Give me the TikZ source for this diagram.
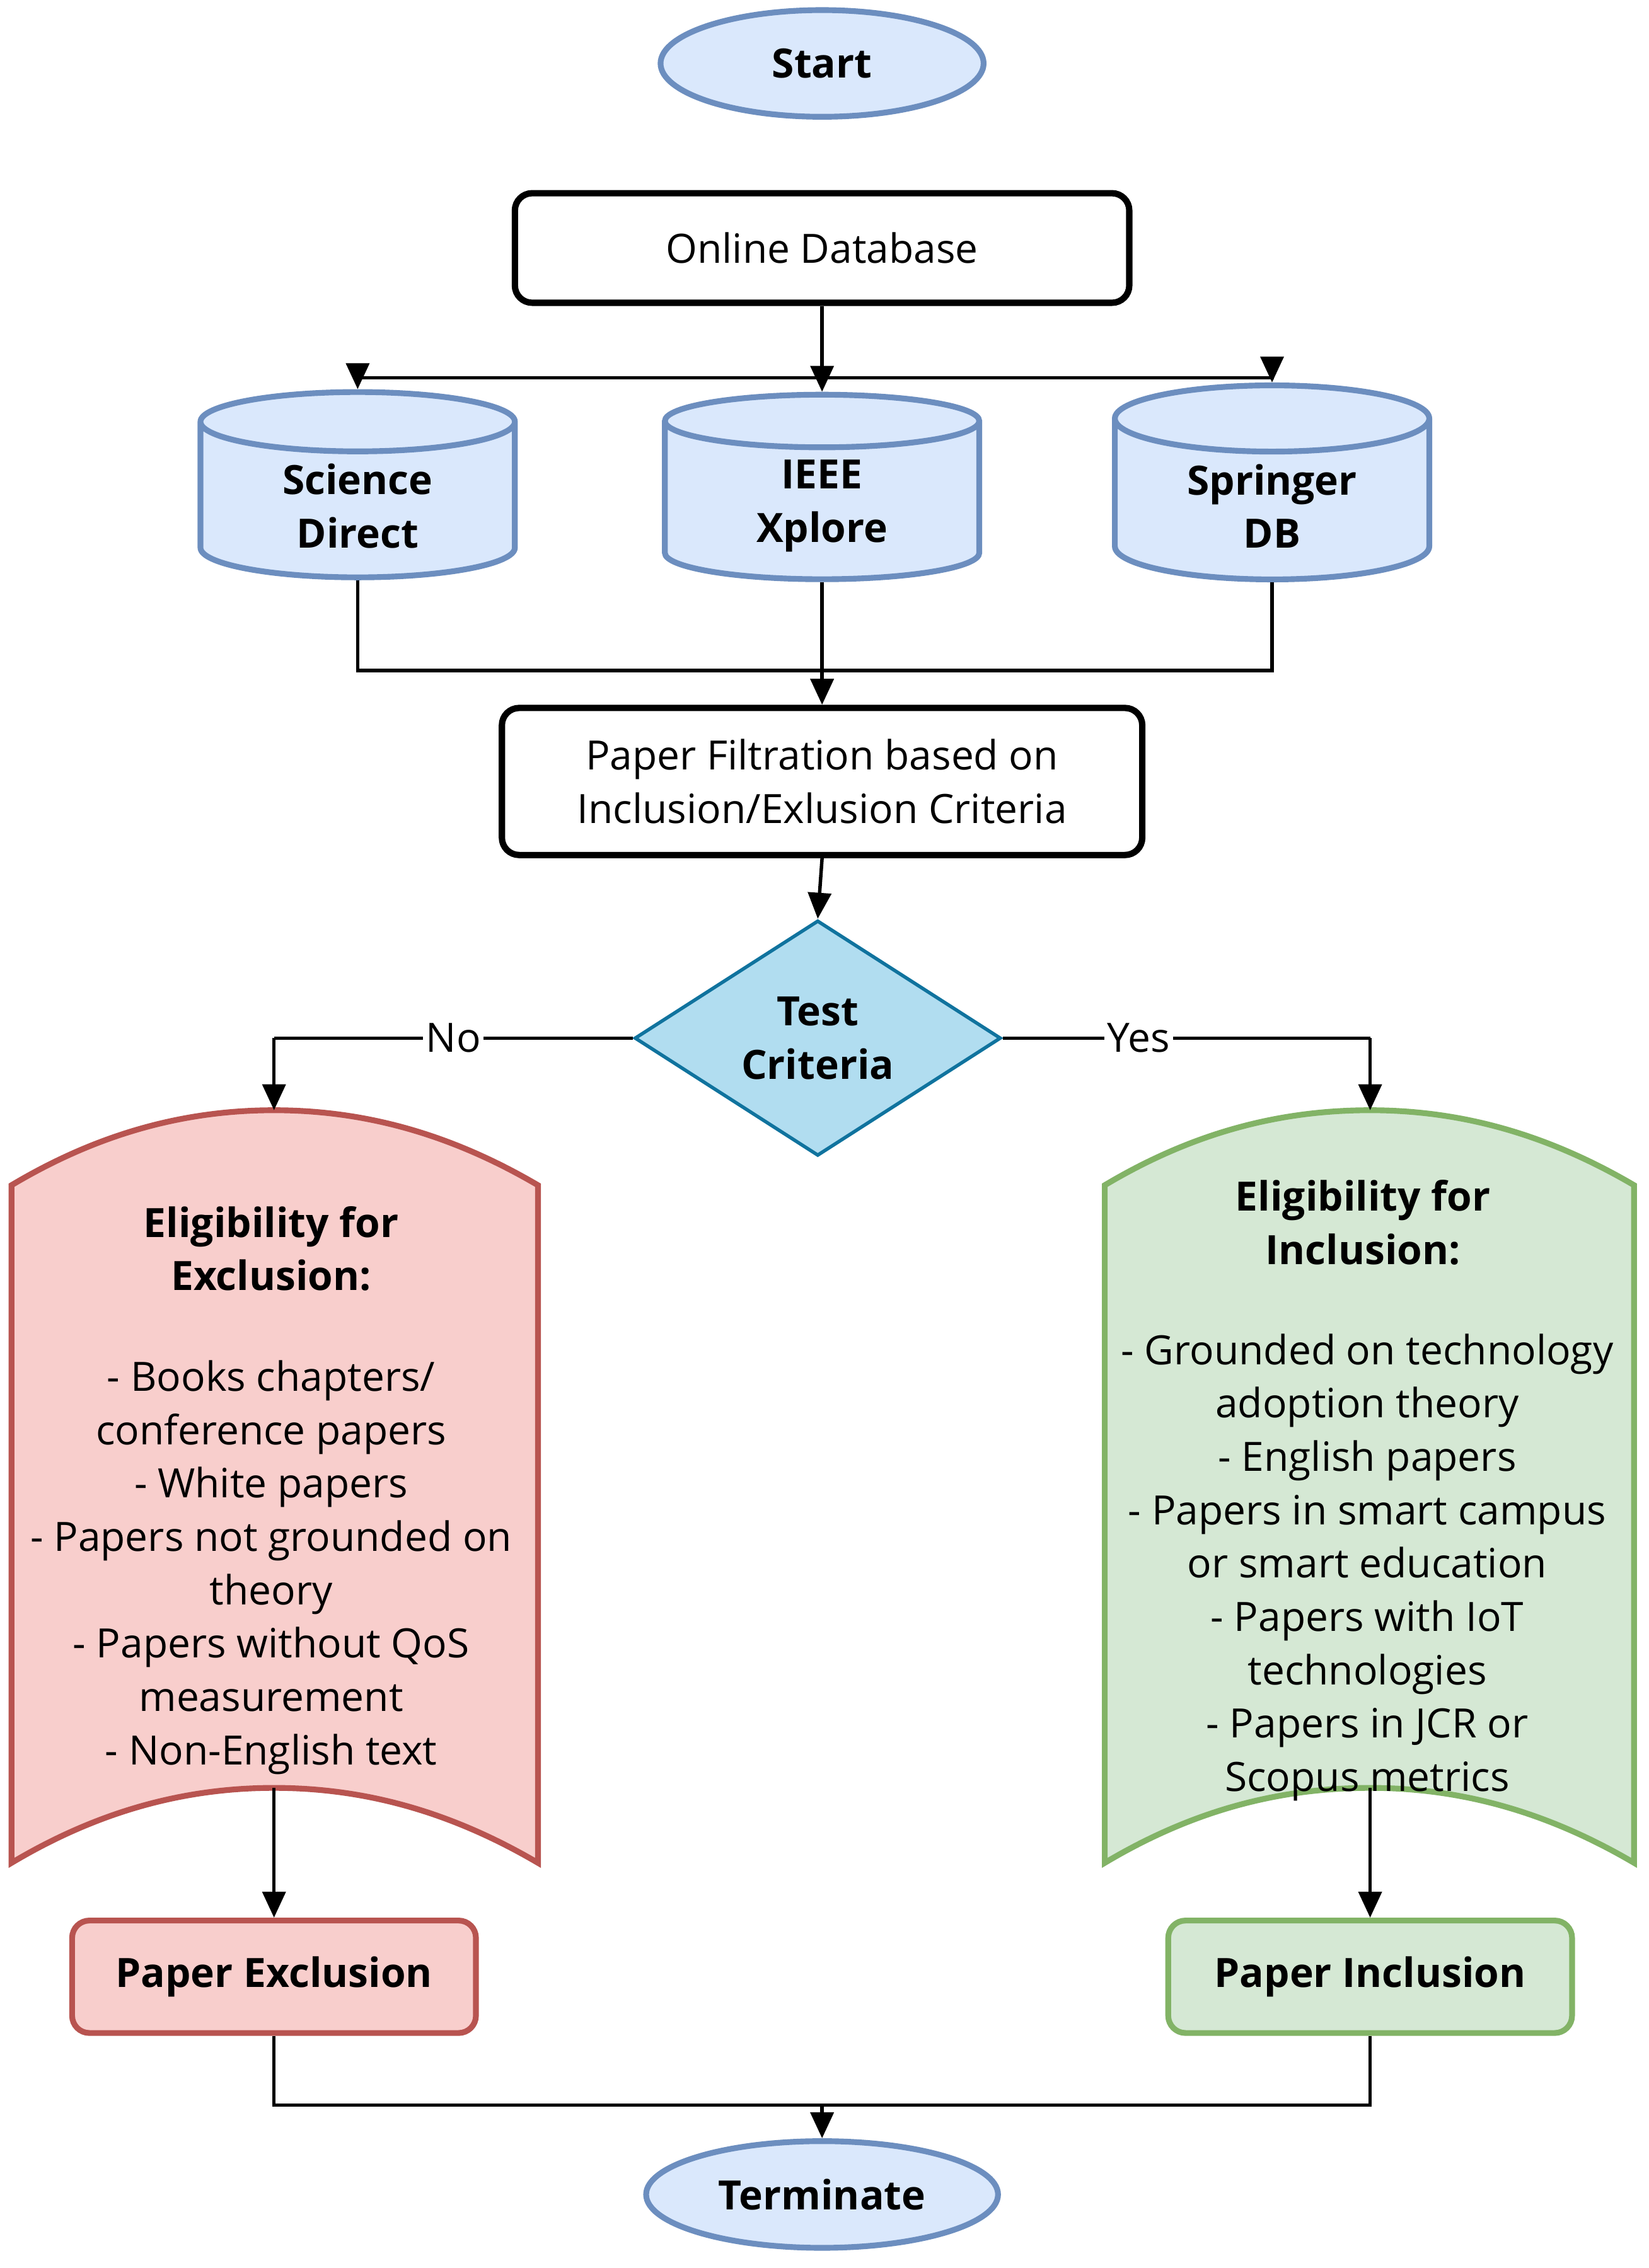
\documentclass[tikz,border=0pt]{standalone}
\usepackage{fontspec}
\setmainfont{Open Sans}
\usetikzlibrary{shapes.geometric,arrows.meta}
\definecolor{bfill}{HTML}{DAE8FC}\definecolor{bline}{HTML}{6C8EBF}
\definecolor{dfill}{HTML}{B1DDF0}\definecolor{dline}{HTML}{10739E}
\definecolor{rfill}{HTML}{F8CECC}\definecolor{rline}{HTML}{B85450}
\definecolor{gfill}{HTML}{D5E8D4}\definecolor{gline}{HTML}{82B366}
\begin{document}
\begin{tikzpicture}[x=0.5pt,y=-0.5pt,
 txt/.style={font=\fontsize{14}{18.5}\selectfont,align=center},
 btxt/.style={font=\fontsize{14}{18.5}\selectfont\bfseries,align=center},
 arr/.style={line width=1.2pt,-{Triangle[length=9pt,width=8pt]}},
 ln/.style={line width=1.2pt},
 ell/.style={ellipse,draw=bline,fill=bfill,line width=2pt,minimum width=112pt,minimum height=37pt,btxt},
 box/.style={draw=black,rounded corners=6pt,line width=2.2pt,txt},
 cyl/.style={cylinder,shape border rotate=90,aspect=0.35,draw=bline,fill=bfill,line width=2pt,minimum width=109pt,minimum height=64pt,btxt}]
\useasboundingbox (0,0) rectangle (1143,1573);
\node[ell] (start) at (570,44) {Start};
\node[box,minimum width=213pt,minimum height=38pt] (db) at (570,172) {Online Database};
\node[cyl] (sd) at (248,351) {Science\\Direct};
\node[cyl] (ie) at (570,351) {IEEE\\Xplore};
\node[cyl] (sp) at (882,351) {Springer\\DB};
\coordinate (br) at (570,262);
\draw[ln] (db.south) -- (br);
\draw[arr] (br) -| (sd.north);
\draw[arr] (br) -- (ie.north);
\draw[arr] (br) -| (sp.north);
\node[box,minimum width=222pt,minimum height=51pt] (pf) at (570,542) {Paper Filtration based on\\Inclusion/Exlusion Criteria};
\coordinate (jn) at (570,465);
\draw[ln] (sd.south) |- (jn);
\draw[ln] (sp.south) |- (jn);
\draw[arr] (ie.south) -- (pf.north);
\node[diamond,draw=dline,fill=dfill,line width=1.2pt,minimum width=127pt,minimum height=73pt,inner sep=0pt,btxt] (tc) at (567,720) {Test\\Criteria};
\draw[arr] (pf.south) -- (tc.north);
% tape shapes
\draw[draw=rline,fill=rfill,line width=2pt] (8,822) .. controls (70,785) and (130,770) .. (190,770) .. controls (250,770) and (310,785) .. (373,822) -- (373,1292) .. controls (310,1255) and (250,1240) .. (190,1240) .. controls (130,1240) and (70,1255) .. (8,1292) -- cycle;
\draw[draw=gline,fill=gfill,line width=2pt] (766,822) .. controls (828,785) and (888,770) .. (950,770) .. controls (1010,770) and (1070,785) .. (1133,822) -- (1133,1292) .. controls (1070,1255) and (1010,1240) .. (950,1240) .. controls (888,1240) and (828,1255) .. (766,1292) -- cycle;
\coordinate (extop) at (190,770); \coordinate (exbot) at (190,1240);
\coordinate (intop) at (950,770); \coordinate (inbot) at (950,1240);
\node[btxt] (exh) at (188,866) {Eligibility for\\Exclusion:};
\node[txt] (exl) at (188,1087) {- Books chapters/\\conference papers\\- White papers\\- Papers not grounded on\\theory\\- Papers without QoS\\measurement\\- Non-English text};
\node[btxt] (inh) at (945,848) {Eligibility for\\Inclusion:};
\node[txt] (inl) at (948,1087) {- Grounded on technology\\adoption theory\\- English papers\\- Papers in smart campus\\or smart education\\- Papers with IoT\\technologies\\- Papers in JCR or\\Scopus metrics};
\draw[ln] (tc.west) -- node[fill=white,inner sep=1pt,txt] {No} (190,720);
\draw[arr] (190,720) -- (extop);
\draw[ln] (tc.east) -- node[fill=white,inner sep=1pt,txt,pos=0.37] {Yes} (950,720);
\draw[arr] (950,720) -- (intop);
\node[draw=rline,fill=rfill,rounded corners=6pt,line width=2pt,minimum width=140pt,minimum height=39pt,btxt] (pe) at (190,1371) {Paper Exclusion};
\node[draw=gline,fill=gfill,rounded corners=6pt,line width=2pt,minimum width=140pt,minimum height=39pt,btxt] (pi) at (950,1371) {Paper Inclusion};
\draw[arr] (exbot) -- (pe.north);
\draw[arr] (inbot) -- (pi.north);
\node[ell,minimum width=122pt] (te) at (570,1522) {Terminate};
\coordinate (j2) at (570,1460);
\draw[ln] (pe.south) |- (j2);
\draw[ln] (pi.south) |- (j2);
\draw[arr] (j2) -- (te.north);
\end{tikzpicture}
\end{document}
